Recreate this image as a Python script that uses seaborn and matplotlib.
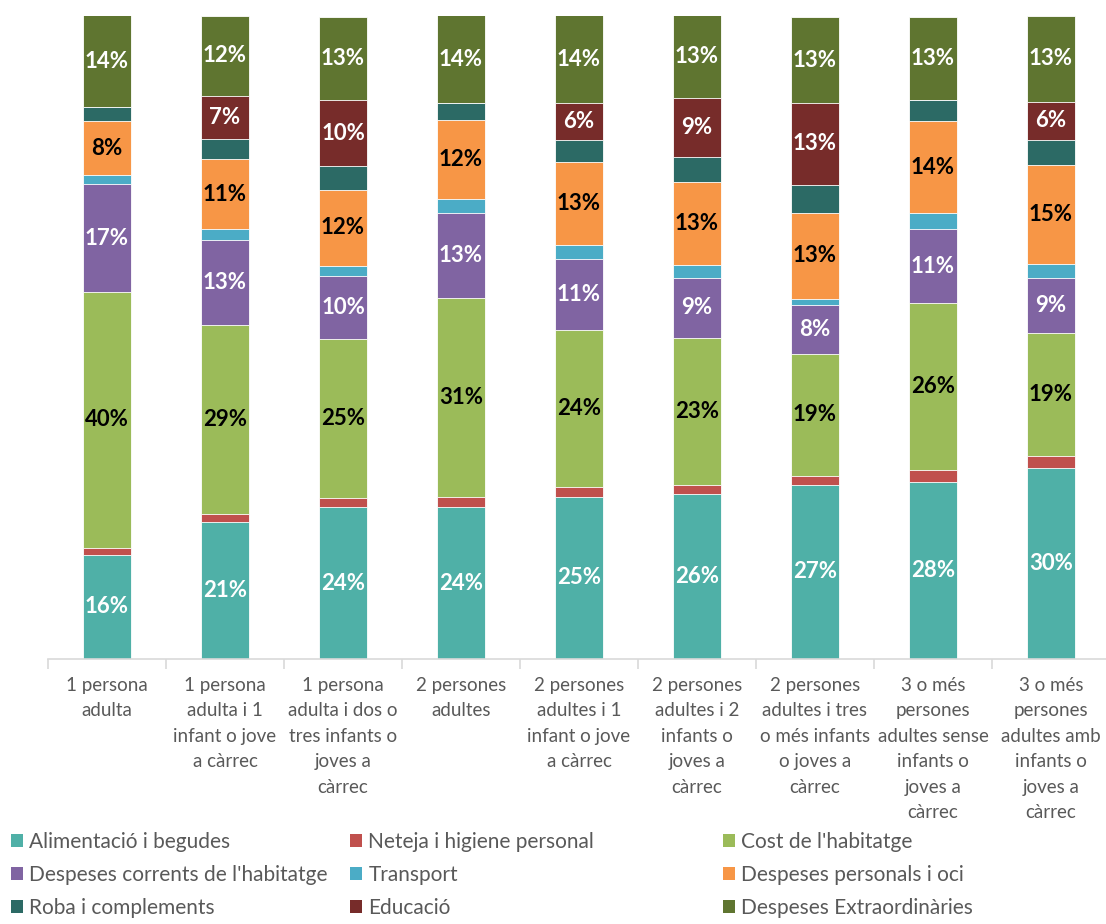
import numpy as np
import pandas as pd
import matplotlib.pyplot as plt
import seaborn as sns
from matplotlib.patches import Patch

sns.set_theme(style="white")
plt.rcParams["font.family"] = ["Lato", "DejaVu Sans"]

# Household types (x axis)
categories = [
    "1 persona\nadulta",
    "1 persona\nadulta i 1\ninfant o jove\na càrrec",
    "1 persona\nadulta i dos o\ntres infants o\njoves a\ncàrrec",
    "2 persones\nadultes",
    "2 persones\nadultes i 1\ninfant o jove\na càrrec",
    "2 persones\nadultes i 2\ninfants o\njoves a\ncàrrec",
    "2 persones\nadultes i tres\no més infants\no joves a\ncàrrec",
    "3 o més\npersones\nadultes sense\ninfants o\njoves a\ncàrrec",
    "3 o més\npersones\nadultes amb\ninfants o\njoves a\ncàrrec",
]

# Share of spending (%) per group, bottom to top
alimentacio = [16.2, 21.3, 23.6, 23.6, 25.2, 25.6, 27.1, 27.6, 29.7]
neteja = [1.1, 1.3, 1.4, 1.6, 1.6, 1.5, 1.4, 1.8, 1.9]
cost_habitatge = [39.8, 29.4, 24.7, 31.0, 24.4, 22.9, 18.9, 26.0, 19.1]
despeses_corrents = [16.7, 13.2, 9.8, 13.2, 11.0, 9.3, 7.7, 11.4, 8.6]
transport = [1.4, 1.7, 1.6, 2.1, 2.2, 2.0, 0.9, 2.5, 2.2]
personals_oci = [8.4, 10.8, 11.9, 12.3, 12.9, 12.9, 13.4, 14.4, 15.3]
roba = [2.2, 3.2, 3.6, 2.7, 3.4, 3.8, 4.3, 3.2, 3.9]
educacio = [0.0, 6.7, 10.4, 0.0, 5.8, 9.3, 12.8, 0.0, 6.0]
extraordinaries = [14.3, 12.4, 12.9, 13.6, 13.6, 12.8, 13.3, 13.0, 13.3]

series = [
    ("Alimentació i begudes", alimentacio, "#4FB0A7", "white", True),
    ("Neteja i higiene personal", neteja, "#C0504D", "white", False),
    ("Cost de l'habitatge", cost_habitatge, "#9BBB59", "black", True),
    ("Despeses corrents de l'habitatge", despeses_corrents, "#8064A2", "white", True),
    ("Transport", transport, "#4BACC6", "white", False),
    ("Despeses personals i oci", personals_oci, "#F79646", "black", True),
    ("Roba i complements", roba, "#2C6A65", "white", False),
    ("Educació", educacio, "#772C2A", "white", True),
    ("Despeses Extraordinàries", extraordinaries, "#5F7530", "white", True),
]

df = pd.DataFrame({name: vals for name, vals, *_ in series}, index=categories)
cum = df.cumsum(axis=1)

fig = plt.figure(figsize=(11.06, 9.24), dpi=100)
ax = fig.add_axes([48 / 1106, 265 / 924, 1062 / 1106, 643 / 924])

# stacked bars: draw cumulative totals from the top layer down
for name, vals, color, tcolor, show in reversed(series):
    sns.barplot(x=categories, y=cum[name].values, color=color, width=0.4,
                edgecolor="white", linewidth=0.6, ax=ax, saturation=1)

# data labels
for name, vals, color, tcolor, show in series:
    if not show:
        continue
    for i, v in enumerate(vals):
        if v <= 0:
            continue
        ax.text(i, cum[name].iloc[i] - v / 2, f"{v:.0f}%", ha="center", va="center",
                color=tcolor, fontsize=16, fontweight="bold")

ax.set_ylim(0, 100)
ax.set_xlim(-0.5, 8.5)
ax.set_yticks([])
for s in ["left", "right", "top"]:
    ax.spines[s].set_visible(False)
ax.spines["bottom"].set_color("#D9D9D9")
ax.spines["bottom"].set_linewidth(1.2)
ax.set_xticks(range(len(categories)))
ax.set_xticklabels(categories, linespacing=1.6, fontsize=13.5, color="#595959")
ax.set_xticks(np.arange(-0.5, 9, 1), minor=True)
ax.tick_params(axis="x", which="major", length=0, pad=13)
ax.tick_params(axis="x", which="minor", length=7, width=1.2, color="#D9D9D9", bottom=True)

# legend in three columns, filled row by row
legend_cols = [[0, 3, 6], [1, 4, 7], [2, 5, 8]]
col_x = [11, 350, 723]
for idxs, x in zip(legend_cols, col_x):
    handles = [Patch(facecolor=series[k][2], edgecolor="none") for k in idxs]
    labels = [series[k][0] for k in idxs]
    fig.legend(handles, labels, loc="upper left", bbox_to_anchor=(x / 1106, (924 - 832) / 924),
               frameon=False, fontsize=15, labelcolor="#595959", handlelength=0.58,
               handleheight=0.58, handletextpad=0.3, labelspacing=0.62,
               borderpad=0, borderaxespad=0)

fig.savefig("out.png", dpi=100)
